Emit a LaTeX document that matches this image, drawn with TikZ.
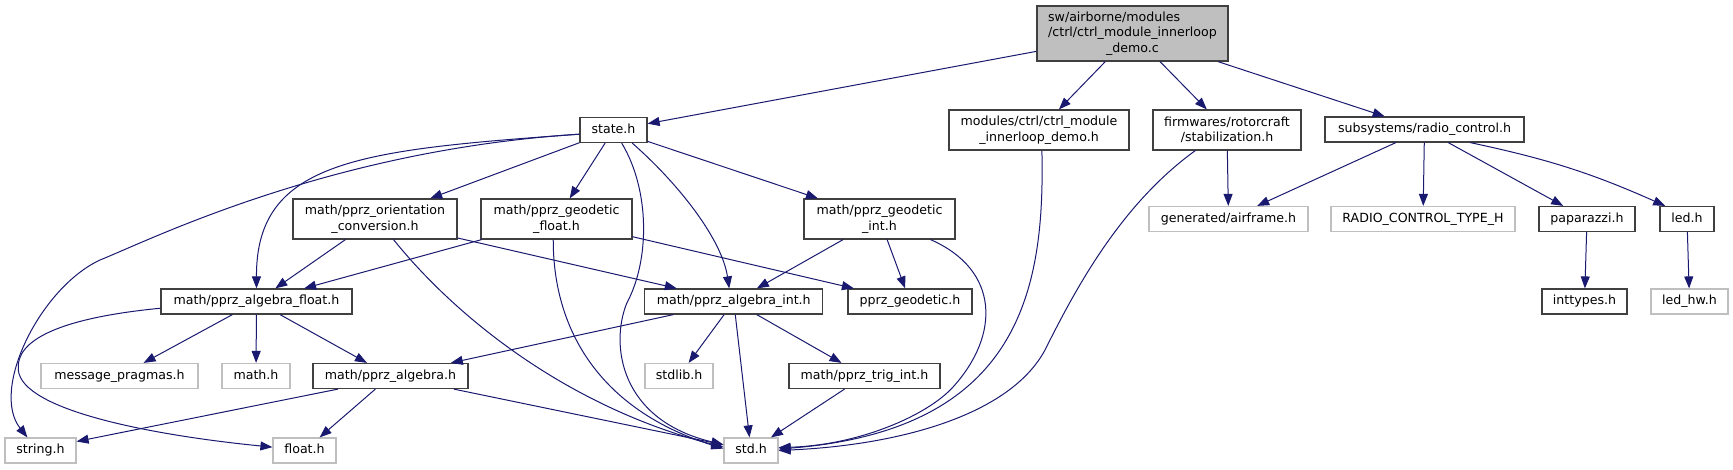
\documentclass[tikz,border=0pt]{standalone}
\usepackage{fontspec}
\setmainfont{DejaVu Sans}
\usetikzlibrary{arrows.meta}
\definecolor{edgeblue}{HTML}{191970}
\definecolor{boxline}{HTML}{404040}
\definecolor{boxgrey}{HTML}{BFBFBF}
\newcommand{\dxfont}{\fontsize{12.6}{15.5}\selectfont}

\begin{document}
\begin{tikzpicture}[x=1pt,y=-1pt]
	\tikzset{box/.style = {draw=boxline, line width=1.2pt, inner sep=0pt, minimum height=25pt, align=center, font=\dxfont}}
	\tikzset{file/.style = {box, text height=9.5pt, text depth=3pt}}
	\tikzset{sys/.style = {file, draw=boxgrey}}
	\tikzset{dep/.style = {draw=edgeblue, line width=1pt, -{Triangle[length=12pt,width=9pt]}}}
	\useasboundingbox (0,0) rectangle (1733,469);

	% files
	\node[box, fill=boxgrey, minimum width=191pt, minimum height=55pt] (root) at (1132.5,33.5)
		{\begin{tabular}{@{}l@{}}sw/airborne/modules\\/ctrl/ctrl\_module\_innerloop\\\multicolumn{1}{@{}c@{}}{\_demo.c}\end{tabular}};
	\node[file, minimum width=67pt] (state) at (613.5,130) {state.h};
	\node[box, minimum width=180pt, minimum height=40pt] (modules) at (1039,130) {modules/ctrl/ctrl\_module\\\_innerloop\_demo.h};
	\node[box, minimum width=148pt, minimum height=40pt] (stabil) at (1227,130) {firmwares/rotorcraft\\/stabilization.h};
	\node[file, minimum width=199pt] (radio) at (1424.5,129.5) {subsystems/radio\_control.h};
	\node[box, minimum width=164pt, minimum height=40pt] (orient) at (375,219) {math/pprz\_orientation\\\_conversion.h};
	\node[box, minimum width=151pt, minimum height=40pt] (geofloat) at (556.5,219) {math/pprz\_geodetic\\\_float.h};
	\node[box, minimum width=151pt, minimum height=40pt] (geoint) at (879.5,219) {math/pprz\_geodetic\\\_int.h};
	\node[sys, minimum width=159pt] (airframe) at (1228.5,219) {generated/airframe.h};
	\node[sys, minimum width=184pt] (rctype) at (1423,219) {RADIO\_CONTROL\_TYPE\_H};
	\node[file, minimum width=96pt] (paparazzi) at (1587,219) {paparazzi.h};
	\node[file, minimum width=54pt] (led) at (1687,219) {led.h};
	\node[file, minimum width=191pt] (algfloat) at (256.5,301.5) {math/pprz\_algebra\_float.h};
	\node[file, minimum width=178pt] (algint) at (733.75,301.5) {math/pprz\_algebra\_int.h};
	\node[file, minimum width=124pt] (geodetic) at (910,301.5) {pprz\_geodetic.h};
	\node[file, minimum width=85pt] (inttypes) at (1584.5,301.5) {inttypes.h};
	\node[sys, minimum width=77pt] (ledhw) at (1689.5,301.5) {led\_hw.h};
	\node[sys, minimum width=157pt] (msgprag) at (119.5,376) {message\_pragmas.h};
	\node[sys, minimum width=68pt] (mathh) at (256,376) {math.h};
	\node[file, minimum width=155pt] (algebra) at (390.5,376) {math/pprz\_algebra.h};
	\node[sys, minimum width=68pt] (stdlib) at (679,376) {stdlib.h};
	\node[file, minimum width=151pt] (trigint) at (864.5,376) {math/pprz\_trig\_int.h};
	\node[sys, minimum width=71pt] (string) at (40.5,450.5) {string.h};
	\node[sys, minimum width=63pt] (float) at (304.5,450.5) {float.h};
	\node[sys, minimum width=54pt] (std) at (751,450.5) {std.h};

	% includes
	\draw[dep] (root) -- (state);
	\draw[dep] (root) -- (modules);
	\draw[dep] (root) -- (stabil);
	\draw[dep] (root) -- (radio);
	\draw[dep] (state) -- (orient);
	\draw[dep] (state) -- (geofloat);
	\draw[dep] (state) -- (geoint);
	\draw[dep] (state.187) .. controls (360,150) and (256,160) .. (algfloat.north);
	\draw[dep] (state.187) .. controls (330,150) and (150,240) .. (100,260) .. controls (40,288) and (-10,390) .. (string.135);
	\draw[dep] (state.-58) .. controls (650,190) and (650,260) .. (626.7,303.3) .. controls (610,345) and (620,420) .. (std.168);
	\draw[dep] (state.-35) .. controls (680,185) and (722,240) .. (algint.109);
	\draw[dep] (modules.-82) .. controls (1045,290) and (1020,430) .. (std.3);
	\draw[dep] (stabil) -- (airframe);
	\draw[dep] (stabil.-147) .. controls (1120,205) and (1075,290) .. (1045,350) .. controls (1010,415) and (900,445) .. (std.0);
	\draw[dep] (radio) -- (airframe);
	\draw[dep] (radio) -- (rctype);
	\draw[dep] (radio) -- (paparazzi);
	\draw[dep] (radio.-16) to[bend left=6] (led.149);
	\draw[dep] (paparazzi) -- (inttypes);
	\draw[dep] (led) -- (ledhw);
	\draw[dep] (orient) -- (algfloat);
	\draw[dep] (orient) -- (algint);
	\draw[dep] (orient.-48) .. controls (450,310) and (560,405) .. (std.173);
	\draw[dep] (geofloat) -- (algfloat);
	\draw[dep] (geofloat) -- (geodetic);
	\draw[dep] (geofloat.-99) .. controls (553,330) and (600,410) .. (std.176);
	\draw[dep] (geoint) -- (algint);
	\draw[dep] (geoint) -- (geodetic);
	\draw[dep] (geoint.-22) .. controls (1000,270) and (1000,335) .. (953.3,386.7) .. controls (928,415) and (860,445) .. (std.6);
	\draw[dep] (algfloat) -- (msgprag);
	\draw[dep] (algfloat) -- (mathh);
	\draw[dep] (algfloat) -- (algebra);
	\draw[dep] (algfloat.184) .. controls (60,318) and (15,340) .. (18.3,370) .. controls (22,410) and (150,435) .. (float.174);
	\draw[dep] (algint) -- (algebra);
	\draw[dep] (algint) -- (stdlib);
	\draw[dep] (algint) -- (trigint);
	\draw[dep] (algint) -- (std);
	\draw[dep] (algebra.194) -- (string.14);
	\draw[dep] (algebra) -- (float);
	\draw[dep] (algebra) -- (std);
	\draw[dep] (trigint) -- (std);
\end{tikzpicture}
\end{document}
